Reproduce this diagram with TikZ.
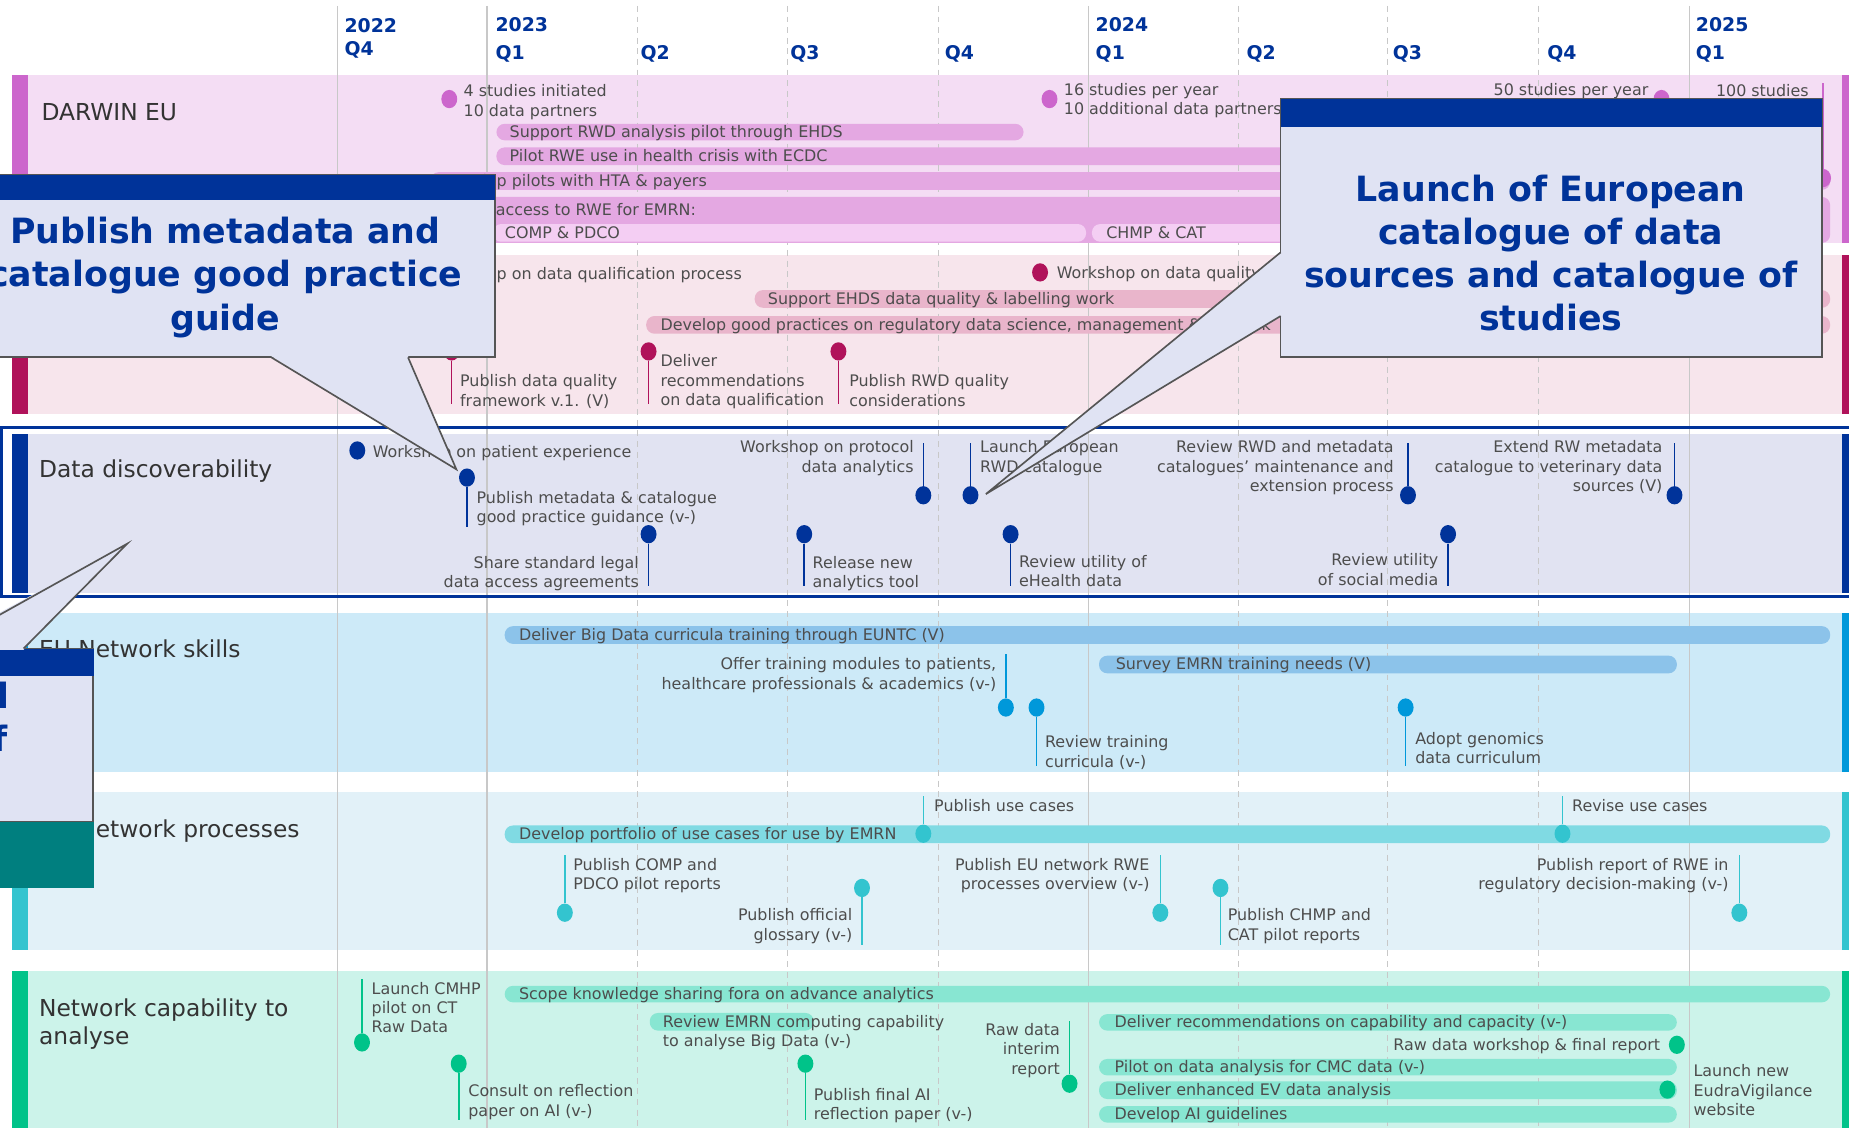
\documentclass[tikz,border=0pt]{standalone}
\usepackage{fontspec}
\setmainfont{DejaVu Sans}
\usetikzlibrary{shapes.geometric}
\definecolor{navy}{HTML}{003399}
\definecolor{txtc}{HTML}{4D4D4D}
\definecolor{ttlc}{HTML}{333333}
\definecolor{gridc}{HTML}{C8C8C8}
\definecolor{dbg}{HTML}{F4DDF4}
\definecolor{dbar}{HTML}{E4A8E2}
\definecolor{dsub}{HTML}{F4CEF3}
\definecolor{ddot}{HTML}{CC66CC}
\definecolor{qbg}{HTML}{F7E5EC}
\definecolor{qbar}{HTML}{E9B5CB}
\definecolor{qdot}{HTML}{B0125A}
\definecolor{vbg}{HTML}{E1E3F2}
\definecolor{vdot}{HTML}{00339A}
\definecolor{sbg}{HTML}{CDEAF8}
\definecolor{sbar}{HTML}{8CC3EA}
\definecolor{sdot}{HTML}{0098DA}
\definecolor{pbg}{HTML}{E2F1F8}
\definecolor{pbar}{HTML}{80DAE3}
\definecolor{pdot}{HTML}{33C4CF}
\definecolor{cbg}{HTML}{CCF3EA}
\definecolor{cbar}{HTML}{88E6D2}
\definecolor{cdot}{HTML}{00C389}
\definecolor{cobody}{HTML}{E0E3F3}
\definecolor{coline}{HTML}{555555}
\definecolor{tealbox}{HTML}{007F7F}
\newcommand{\lblfont}{\fontsize{13.5}{16.5}\selectfont}
\newcommand{\hdrfont}{\bfseries\fontsize{16}{18}\selectfont}
\newcommand{\ttlfont}{\fontsize{19.8}{24}\selectfont}
\newcommand{\cofont}{\bfseries\fontsize{29.5}{36.5}\selectfont}
\newcommand{\tlpin}[5]{%
  \node[tldot, fill=#5] (#1) at (#2,#3) {};
  \coordinate (#1e) at (#2,#4);
  \draw[#5, line width=1.4pt] (#1) -- (#1e);
}
\newcommand{\tlbar}[8]{%
  \fill[#6, rounded corners=7pt] (#2,#4) rectangle (#3,#5);
  \node[bartxt] (#1) at (#8,{(#4+#5)/2}) {#7};
}
\tikzset{
 tldot/.style={ellipse, minimum width=13.5pt, minimum height=15.5pt, inner sep=0pt, draw=none},
 lbl/.style={font=\lblfont, text=txtc, inner sep=0pt, align=left, anchor=north west, yshift=5.5pt},
 lblr/.style={lbl, align=right, anchor=north east},
 bartxt/.style={font=\lblfont, text=txtc, inner sep=0pt, anchor=base west, yshift=-4.5pt},
 hdr/.style={font=\hdrfont, text=navy, inner sep=0pt, anchor=base west, yshift=-5.8pt},
 ttl/.style={font=\ttlfont, text=ttlc, inner sep=0pt, anchor=base west, yshift=-6.8pt},
 ttlml/.style={font=\ttlfont, text=ttlc, inner sep=0pt, align=left, anchor=north west, yshift=7.5pt},
 cotxt/.style={font=\cofont, text=navy, inner sep=0pt, align=center, anchor=north, yshift=11.75pt},
 gsolid/.style={draw=gridc, line width=1pt},
 gdash/.style={draw=gridc, line width=0.9pt, dash pattern=on 5pt off 4pt},
 cobox/.style={fill=cobody, draw=coline, line width=1.4pt},
}
\begin{document}
\begin{tikzpicture}[x=1pt,y=-1pt]
\useasboundingbox (0,0) rectangle (1568,956);
\clip (0,0) rectangle (1568,956);
\fill[white] (0,0) rectangle (1568,956);
% lane backgrounds
\fill[dbg] (10,64) rectangle (1562,206);
\fill[ddot] (10,64) rectangle (24,206);
\fill[ddot] (1562,64) rectangle (1568,206);
\fill[qbg] (10,216) rectangle (1562,351);
\fill[qdot] (10,216) rectangle (24,351);
\fill[qdot] (1562,216) rectangle (1568,351);
\fill[vbg] (10,368) rectangle (1562,503);
\fill[vdot] (10,368) rectangle (24,503);
\fill[vdot] (1562,368) rectangle (1568,503);
\fill[sbg] (10,520) rectangle (1562,655);
\fill[sdot] (10,520) rectangle (24,655);
\fill[sdot] (1562,520) rectangle (1568,655);
\fill[pbg] (10,672) rectangle (1562,806);
\fill[pdot] (10,672) rectangle (24,806);
\fill[pdot] (1562,672) rectangle (1568,806);
\fill[cbg] (10,823) rectangle (1562,960);
\fill[cdot] (10,823) rectangle (24,960);
\fill[cdot] (1562,823) rectangle (1568,960);
% grid
\foreach \gx in {286,413,923,1433} {\draw[gsolid] (\gx,5) -- (\gx,960);}
\foreach \gx in {541,668,796,1050,1177,1305} {\draw[gdash] (\gx,5) -- (\gx,960);}
\draw[navy, line width=2.6pt] (1,362.5) rectangle (1580,506);
% header
\node[hdr] (h1) at (292,22) {2022};
\node[hdr] (h2) at (292,41) {Q4};
\node[hdr] (h3) at (420,21) {2023};
\node[hdr] (h4) at (420,45) {Q1};
\node[hdr] (h5) at (543,45) {Q2};
\node[hdr] (h6) at (670,45) {Q3};
\node[hdr] (h7) at (801,45) {Q4};
\node[hdr] (h8) at (929,21) {2024};
\node[hdr] (h9) at (929,45) {Q1};
\node[hdr] (h10) at (1057,45) {Q2};
\node[hdr] (h11) at (1181,45) {Q3};
\node[hdr] (h12) at (1312,45) {Q4};
\node[hdr] (h13) at (1438,21) {2025};
\node[hdr] (h14) at (1438,45) {Q1};
% lane titles
\node[ttl] (lt1) at (35,95) {DARWIN EU};
\node[ttl] (lt3) at (33,398) {Data discoverability};
\node[ttl] (lt4) at (33,551) {EU Network skills};
\node[ttl] (lt5) at (33,703) {EU Network processes};
\node[ttlml] (lt6) at (33,854) {Network capability to\\analyse};
% ---- DARWIN EU
\tlbar{b1}{421}{868}{105}{119}{dbar}{Support RWD analysis pilot through EHDS}{432}
\tlbar{b2}{421}{1400}{125}{140}{dbar}{Pilot RWE use in health crisis with ECDC}{432}
\tlbar{b3}{365}{1552}{146}{161}{dbar}{Develop pilots with HTA \& payers}{374}
\fill[dbar, rounded corners=7pt] (365,167) rectangle (1552,206);
\node[bartxt] (b4) at (366,178) {Provide access to RWE for EMRN:};
\tlbar{b4a}{418}{921}{190}{205}{dsub}{COMP \& PDCO}{428}
\tlbar{b4b}{926}{1540}{190}{205}{dsub}{CHMP \& CAT}{938}
\node[tldot, fill=ddot] (d1) at (381,84) {};
\node[lbl] (t1) at (393,77) {4 studies initiated\\10 data partners};
\node[tldot, fill=ddot] (d2) at (890,84) {};
\node[lbl] (t2) at (902,76) {16 studies per year\\10 additional data partners};
\node[lblr] (t3) at (1398,76) {50 studies per year};
\node[tldot, fill=ddot] (d3) at (1409,84) {};
\node[lbl] (t4) at (1455,77) {100 studies};
\tlpin{p100}{1546}{151}{70}{ddot}
% ---- data quality lane
\node[tldot, fill=qdot] (q0) at (350,232) {};
\node[lbl] (qt0) at (363,232) {Workshop on data qualification process};
\node[tldot, fill=qdot] (q1) at (882,231) {};
\node[lbl] (qt1) at (896,231) {Workshop on data quality};
\tlbar{b5}{640}{1552}{246}{261}{qbar}{Support EHDS data quality \& labelling work}{651}
\tlbar{b6}{548}{1552}{268}{283}{qbar}{Develop good practices on regulatory data science, management \& network}{560}
\tlpin{q2}{383}{298}{343}{qdot}
\node[lbl] (qt2) at (390,323) {Publish data quality\\framework v.1. (V)};
\tlpin{q3}{550}{298}{343}{qdot}
\node[lbl] (qt3) at (560,306) {Deliver\\recommendations\\on data qualification};
\tlpin{q4}{711}{298}{343}{qdot}
\node[lbl] (qt4) at (720,323) {Publish RWD quality\\considerations};
% ---- data discoverability
\node[tldot, fill=vdot] (v0) at (303,382) {};
\node[lbl] (vt0) at (316,383) {Workshop on patient experience};
\tlpin{v1}{396}{405}{447}{vdot}
\node[lbl] (vt1) at (404,422) {Publish metadata \& catalogue\\good practice guidance (v-)};
\tlpin{v2}{550}{453}{497}{vdot}
\node[lblr] (vt2) at (542,477) {Share standard legal\\data access agreements};
\tlpin{v3}{682}{453}{497}{vdot}
\node[lbl] (vt3) at (689,477) {Release new\\analytics tool};
\tlpin{v4}{783}{420}{376}{vdot}
\node[lblr] (vt4) at (775,379) {Workshop on protocol\\data analytics};
\tlpin{v5}{823}{420}{376}{vdot}
\node[lbl] (vt5) at (831,379) {Launch European\\RWD catalogue};
\tlpin{v6}{857}{453}{497}{vdot}
\node[lbl] (vt6) at (864,476) {Review utility of\\eHealth data};
\tlpin{v7}{1194}{420}{376}{vdot}
\node[lblr] (vt7) at (1182,379) {Review RWD and metadata\\catalogues’ maintenance and\\extension process};
\tlpin{v8}{1228}{453}{497}{vdot}
\node[lblr] (vt8) at (1220,475) {Review utility\\of social media};
\tlpin{v9}{1420}{420}{376}{vdot}
\node[lblr] (vt9) at (1410,379) {Extend RW metadata\\catalogue to veterinary data\\sources (V)};
% ---- skills
\tlbar{b7}{428}{1552}{531}{546}{sbar}{Deliver Big Data curricula training through EUNTC (V)}{440}
\tlbar{b8}{932}{1422}{556}{571}{sbar}{Survey EMRN training needs (V)}{946}
\tlpin{s1}{853}{600}{555}{sdot}
\node[lblr] (st1) at (845,563) {Offer training modules to patients,\\healthcare professionals \& academics (v-)};
\tlpin{s2}{879}{600}{650}{sdot}
\node[lbl] (st2) at (886,629) {Review training\\curricula (v-)};
\tlpin{s3}{1192}{600}{650}{sdot}
\node[lbl] (st3) at (1200,626) {Adopt genomics\\data curriculum};
% ---- processes
\tlbar{b9}{428}{1552}{700}{715}{pbar}{Develop portfolio of use cases for use by EMRN}{440}
\tlpin{n1}{783}{707}{675}{pdot}
\node[lbl] (nt1) at (792,683) {Publish use cases};
\tlpin{n2}{1325}{707}{675}{pdot}
\node[lbl] (nt2) at (1333,683) {Revise use cases};
\tlpin{n3}{479}{774}{725}{pdot}
\node[lbl] (nt3) at (486,733) {Publish COMP and\\PDCO pilot reports};
\tlpin{n4}{731}{753}{801}{pdot}
\node[lblr] (nt4) at (723,776) {Publish official\\glossary (v-)};
\tlpin{n5}{984}{774}{725}{pdot}
\node[lblr] (nt5) at (975,733) {Publish EU network RWE\\processes overview (v-)};
\tlpin{n6}{1035}{753}{801}{pdot}
\node[lbl] (nt6) at (1041,776) {Publish CHMP and\\CAT pilot reports};
\tlpin{n7}{1475}{774}{725}{pdot}
\node[lblr] (nt7) at (1466,733) {Publish report of RWE in\\regulatory decision-making (v-)};
% ---- capability
\tlbar{b10}{428}{1552}{836}{850}{cbar}{Scope knowledge sharing fora on advance analytics}{440}
\fill[cbar, rounded corners=7pt] (551,859) rectangle (690,874);
\node[lbl] (b11) at (562,866) {Review EMRN computing capability\\to analyse Big Data (v-)};
\tlbar{b12}{932}{1422}{860}{874}{cbar}{Deliver recommendations on capability and capacity (v-)}{945}
\tlbar{b13}{932}{1422}{898}{912}{cbar}{Pilot on data analysis for CMC data (v-)}{945}
\tlbar{b14}{932}{1422}{917}{932}{cbar}{Deliver enhanced EV data analysis}{945}
\tlbar{b15}{932}{1422}{938}{952}{cbar}{Develop AI guidelines}{945}
\tlpin{c1}{307}{884}{830}{cdot}
\node[lbl] (ct1) at (315,838) {Launch CMHP\\pilot on CT\\Raw Data};
\tlpin{c2}{389}{902}{950}{cdot}
\node[lbl] (ct2) at (397,925) {Consult on reflection\\paper on AI (v-)};
\tlpin{c3}{683}{902}{950}{cdot}
\node[lbl] (ct3) at (690,928) {Publish final AI\\reflection paper (v-)};
\tlpin{c4}{907}{919}{866}{cdot}
\node[lblr] (ct4) at (899,873) {Raw data\\interim\\report};
\node[tldot, fill=cdot] (c5) at (1422,886) {};
\node[lblr] (ct5) at (1408,886) {Raw data workshop \& final report};
\node[tldot, fill=cdot] (c6) at (1414,924) {};
\node[lbl] (ct6) at (1436,908) {Launch new\\EudraVigilance\\website};
% ---- callout A
\draw[cobox] (-5,148) rectangle (420,303);
\fill[navy] (-5,148) rectangle (420,170);
\fill[cobody] (230,302) -- (387,398) -- (346,302) -- cycle;
\draw[coline, line width=1.4pt] (230,303) -- (387,398) -- (346,303);
\node[cotxt] (coa) at (191,196) {Publish metadata and\\catalogue good practice\\guide};
% ---- callout B
\draw[cobox] (1086,84) rectangle (1545,303);
\fill[navy] (1086,84) rectangle (1545,108);
\fill[cobody] (1087,214) -- (836,419) -- (1087,268) -- cycle;
\draw[coline, line width=1.4pt] (1086,214) -- (836,419) -- (1086,268);
\node[cotxt] (cob) at (1315,160) {Launch of European\\catalogue of data\\sources and catalogue of\\studies};
% ---- callout C
\draw[cobox] (-5,550) rectangle (79,697);
\fill[navy] (-5,550) rectangle (80,573);
\fill[cobody] (-5,522) -- (108,461) -- (20,551) -- (-5,551) -- cycle;
\draw[coline, line width=1.4pt] (-5,524) -- (108,461) -- (20,550);
\node[font=\cofont, text=navy, inner sep=0pt, anchor=base east] (coc1) at (8,601) {d};
\node[font=\cofont, text=navy, inner sep=0pt, anchor=base east] (coc2) at (7,637) {f};
\fill[tealbox] (-5,697) rectangle (80,753);
\end{tikzpicture}
\end{document}
